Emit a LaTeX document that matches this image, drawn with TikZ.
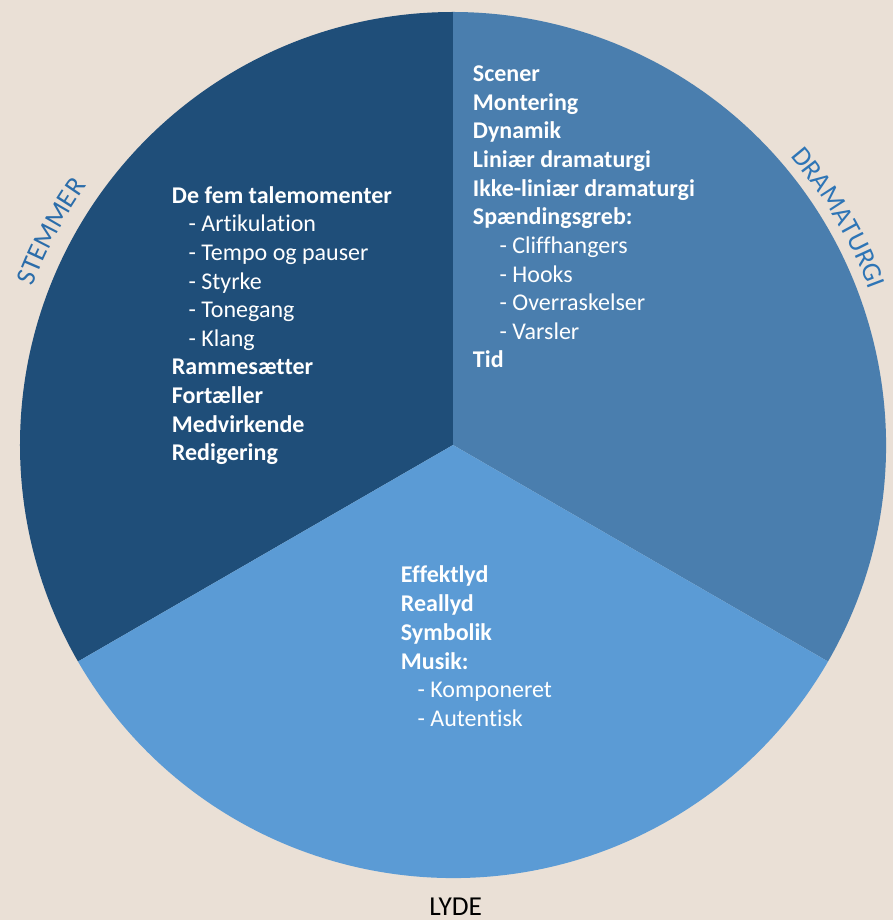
\documentclass[tikz,border=0pt]{standalone}
\usepackage{fontspec}
\setmainfont{Carlito}[Ligatures=NoCommon]
\usetikzlibrary{decorations.text}
\definecolor{paper}{HTML}{EAE0D6}
\definecolor{stemmerblue}{HTML}{1F4E79}
\definecolor{dramablue}{HTML}{4A7EAE}
\definecolor{lydeblue}{HTML}{5B9BD5}
\definecolor{labelblue}{HTML}{2E75B6}
\newcommand\lblfont{\fontsize{20.5}{22}\selectfont}
\begin{document}
\begin{tikzpicture}[x=0.75pt, y=0.75pt,
  item/.style={anchor=base west, inner sep=0pt, text=white, font=\fontsize{18}{20}\selectfont},
  head/.style={item, font=\fontsize{18}{20}\selectfont\bfseries},
  sub/.style={item, xshift=12.5pt},
  subwide/.style={item, xshift=20pt}]

       \fill[paper] (-453,-475) rectangle (440,445);
       \useasboundingbox (-453,-475) rectangle (440,445);

       \fill[stemmerblue] (0,0) -- (90:433) arc (90:210:433) -- cycle;
       \fill[dramablue] (0,0) -- (-30:433) arc (-30:90:433) -- cycle;
       \fill[lydeblue] (0,0) -- (210:433) arc (210:330:433) -- cycle;

       \foreach \st/\txt [count=\i from 0] in {head/De fem talemomenter, sub/- Artikulation,
           sub/- Tempo og pauser, sub/- Styrke, sub/- Tonegang, sub/- Klang,
           head/Rammesætter, head/Fortæller, head/Medvirkende, head/Redigering}
         \node[\st] (stemmer\i) at (-281.3, 241.7-28.6*\i) {\txt};

       \foreach \st/\txt [count=\i from 0] in {head/Scener, head/Montering, head/Dynamik,
           head/Liniær dramaturgi, head/Ikke-liniær dramaturgi, head/Spændingsgreb:,
           subwide/- Cliffhangers, subwide/- Hooks, subwide/- Overraskelser, subwide/- Varsler,
           head/Tid}
         \node[\st] (drama\i) at (19.7, 363.5-28.65*\i) {\txt};

       \foreach \st/\txt [count=\i from 0] in {head/Effektlyd, head/Reallyd, head/Symbolik,
           head/Musik:, sub/- Komponeret, sub/- Autentisk}
         \node[\st] (lyde\i) at (-52.3, -137.7-28.8*\i) {\txt};

       \path[decorate, decoration={text along path, text align=center,
           text={|\lblfont\color{labelblue!80!stemmerblue}|STEMMER}}]
         (183:449) arc (183:121:449);
       \path[decorate, decoration={text along path, text align=center,
           text={|\lblfont\color{labelblue}|DRAMATURGI}}]
         (62:444) arc (62:-1:444);
       \node[anchor=base, inner sep=0pt, font=\lblfont] (lyde) at (2.7,-470) {LYDE};
     \end{tikzpicture}
\end{document}
